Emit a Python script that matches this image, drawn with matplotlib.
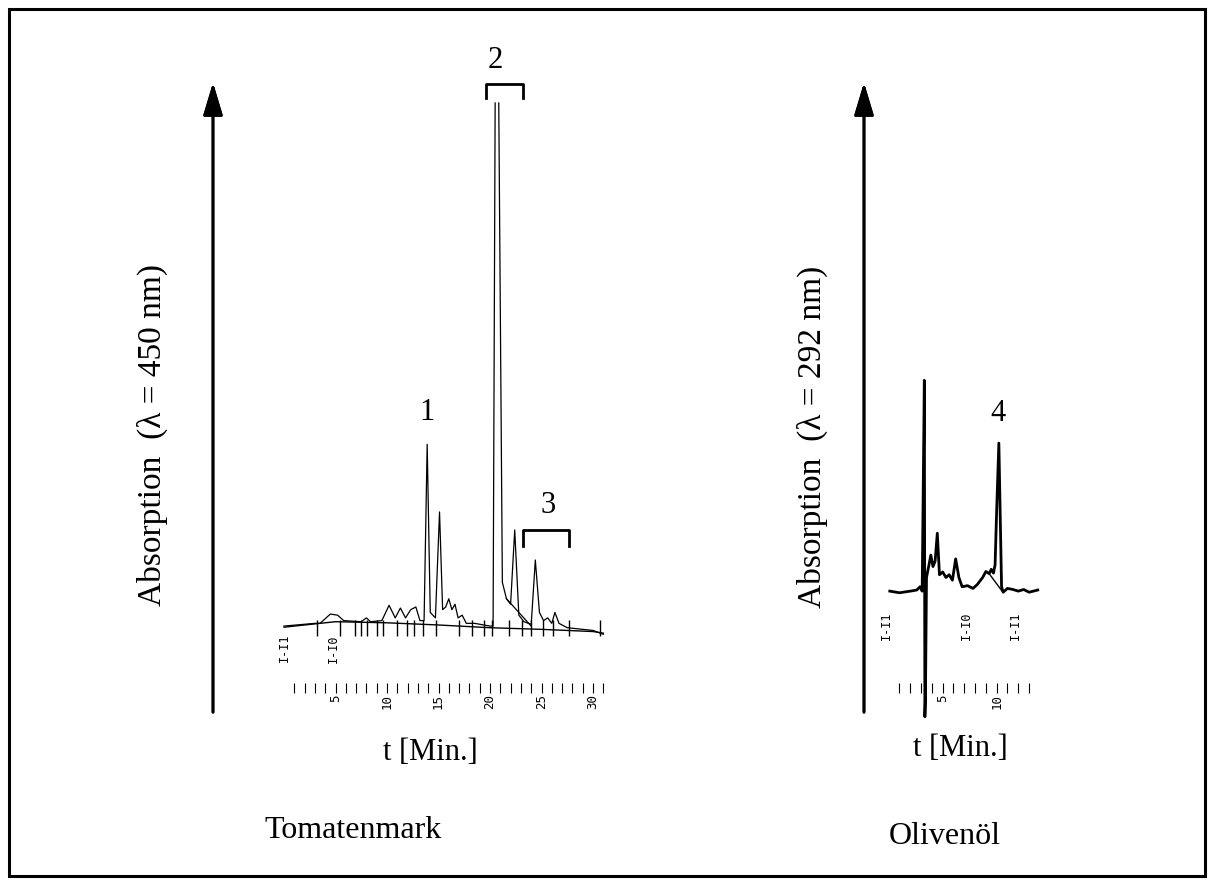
import numpy as np
import matplotlib
matplotlib.use("Agg")
import matplotlib.pyplot as plt
from matplotlib.patches import Rectangle

plt.rcParams['font.family'] = ['Liberation Serif', 'DejaVu Serif']

# Tomatenmark chromatogram (t in min, absorption in arbitrary units)
tomato_t = [0.0, 3.0, 3.5, 4.5, 5.2, 5.8, 7.5, 8.0, 8.4, 9.5, 10.2, 10.8, 11.3, 11.8,
            12.3, 12.8, 13.2, 13.6, 13.9, 14.2, 14.7, 15.1, 15.4, 15.7, 16.0, 16.3,
            16.6, 16.9, 17.3, 17.7, 18.5, 20.0, 20.3, 20.5, np.nan, 20.85, 21.2, 21.6,
            22.0, 22.4, 22.8, 23.3, 24.0, 24.4, 24.8, 25.2, 25.6, 26.0, 26.3, 26.7,
            27.5, 30.0, 31.0]
tomato_a = [0.0, 0.5, 0.5, 2.2, 2.0, 1.0, 0.8, 1.5, 0.8, 1.0, 3.8, 1.5, 3.3, 1.5,
            3.0, 3.5, 1.0, 1.0, 33.3, 2.5, 1.5, 20.9, 3.0, 3.5, 5.0, 3.0,
            4.0, 1.5, 2.0, 0.5, 0.5, 0.0, 0.0, 95.8, np.nan, 95.8, 8.0, 5.0,
            4.0, 17.6, 2.0, 0.8, 0.3, 12.1, 2.5, 1.0, 1.5, 0.5, 2.5, 0.5,
            -0.3, -0.8, -1.5]
tomato_base_t = [0, 5, 10, 15, 20, 25, 30, 31]
tomato_base_a = [-0.2, 0.8, 0.6, 0.2, -0.3, -0.6, -1.0, -1.3]
tomato_tail_t = [21.6, 24.0]
tomato_tail_a = [5.0, 0.0]
tomato_marks = [3.2, 5.4, 6.9, 7.5, 8.1, 9.0, 9.6, 11.0, 11.9, 12.6, 13.5, 14.8,
                17.0, 18.3, 19.4, 20.2, 21.8, 23.1, 24.0, 25.1, 26.1, 27.7, 30.7]
tomato_ticks = list(range(1, 32))
tomato_labels = [5, 10, 15, 20, 25, 30]

# Olivenöl chromatogram
olive_t = [0.1, 1.0, 2.0, 2.6, 2.9, 3.1, 3.3, 3.35, 3.4, 3.5, 3.7, 3.9, 4.1, 4.3,
           4.5, 4.7, 5.0, 5.3, 5.6, 5.9, 6.2, 6.5, 6.8, 7.3, 7.8, 8.2, 8.7, 9.0,
           9.3, 9.5, 9.7, 9.85, 10.0, 10.2, 10.45, 10.6, 11.0, 11.5, 12.0, 12.5,
           13.0, 13.8]
olive_a = [0.0, -0.3, 0.0, 0.2, 0.8, 0.0, 38.6, -23.0, -20.0, 2.5, 4.5, 6.6, 4.5, 5.5,
           10.6, 3.0, 3.5, 2.5, 3.0, 2.0, 5.9, 2.5, 0.8, 1.0, 0.5, 1.2, 2.5, 3.6,
           3.2, 4.0, 3.3, 4.8, 15.0, 27.1, 0.8, -0.2, 0.5, 0.3, 0.0, 0.3,
           -0.2, 0.2]
olive_tail_t = [9.3, 10.5]
olive_tail_a = [3.2, 0.0]
olive_ticks = list(range(1, 14))
olive_labels = [5, 10]

W, H = 1216, 886
fig = plt.figure(figsize=(W / 100, H / 100), dpi=100)


def fx(px):
    return px / W


def fy(py):
    return 1 - py / H


def make_axes(left_px, right_px, ylim, scale_y, ticks, labels):
    ax = fig.add_axes([fx(left_px), fy(720), fx(right_px - left_px), 640 / H])
    ax.set_ylim(*ylim)
    for s in ['top', 'left', 'right']:
        ax.spines[s].set_visible(False)
    ax.spines['bottom'].set_position(('data', scale_y))
    ax.spines['bottom'].set_visible(False)
    ax.set_yticks([])
    ax.set_xticks(labels)
    ax.set_xticks([t for t in ticks if t not in labels], minor=True)
    ax.set_xticklabels([str(v) for v in labels], rotation=90,
                       fontfamily='DejaVu Sans Mono', fontsize=9)
    ax.tick_params(axis='x', which='both', direction='inout', length=7,
                   width=0.8, pad=1)
    ax.patch.set_alpha(0)
    return ax


# left panel
ax1 = make_axes(273.7, 613.6, (-17.2, 100), -11.35, tomato_ticks, tomato_labels)
ax1.set_xlim(-1, 32)
ax1.plot(tomato_t, tomato_a, color='black', lw=0.9, clip_on=False)
ax1.plot(tomato_base_t, tomato_base_a, color='black', lw=1.0)
ax1.plot(tomato_tail_t, tomato_tail_a, color='black', lw=0.9)
ax1.vlines(tomato_marks, -1.9, 1.2, color='black', lw=1.0)
ax1.plot([19.6, 19.6, 23.2, 23.2], [96.7, 99.2, 99.2, 96.7], color='black',
         lw=2, clip_on=False)
ax1.plot([23.2, 23.2, 27.7, 27.7], [14.6, 17.6, 17.6, 14.6], color='black', lw=2)
ax1.text(13.9, 39.2, '1', ha='center', va='center', fontsize=22)
ax1.text(20.5, 103.6, '2', ha='center', va='center', fontsize=22)
ax1.text(25.6, 22.0, '3', ha='center', va='center', fontsize=22)
ax1.text(0.0, -1.3, 'I-I1', rotation=90, ha='center', va='top',
         fontfamily='DejaVu Sans Mono', fontsize=8.5)
ax1.text(4.8, -1.5, 'I-I0', rotation=90, ha='center', va='top',
         fontfamily='DejaVu Sans Mono', fontsize=8.5)

# right panel
ax2 = make_axes(877.9, 1045.3, (-23.6, 93.6), -17.76, olive_ticks, olive_labels)
ax2.set_xlim(-1, 14.5)
ax2.plot(olive_t, olive_a, color='black', lw=2.0, clip_on=False)
ax2.plot(olive_tail_t, olive_tail_a, color='black', lw=1.0)
ax2.text(10.1, 32.6, '4', ha='center', va='center', fontsize=22)
ax2.text(-0.2, -3.7, 'I-I1', rotation=90, ha='center', va='top',
         fontfamily='DejaVu Sans Mono', fontsize=8.5)
ax2.text(7.2, -3.7, 'I-I0', rotation=90, ha='center', va='top',
         fontfamily='DejaVu Sans Mono', fontsize=8.5)
ax2.text(11.7, -3.7, 'I-I1', rotation=90, ha='center', va='top',
         fontfamily='DejaVu Sans Mono', fontsize=8.5)

# axis arrows and labels
for x_px in (213, 864):
    fig.add_artist(plt.annotate('', xy=(x_px, H - 80), xytext=(x_px, H - 715),
                                xycoords='figure pixels', textcoords='figure pixels',
                                arrowprops=dict(arrowstyle='-|>,head_length=1.0,head_width=0.3',
                                                mutation_scale=20, lw=2, color='black')))

fig.text(fx(152), fy(435), 'Absorption  (\u03bb = 450 nm)', rotation=90,
         ha='center', va='center', fontsize=24)
fig.text(fx(812), fy(437), 'Absorption  (\u03bb = 292 nm)', rotation=90,
         ha='center', va='center', fontsize=24)
fig.text(fx(430), fy(752), 't [Min.]', ha='center', va='center', fontsize=22)
fig.text(fx(960), fy(748), 't [Min.]', ha='center', va='center', fontsize=22)
fig.text(fx(353), fy(831), 'Tomatenmark', ha='center', va='center', fontsize=23)
fig.text(fx(945), fy(836), 'Olivenöl', ha='center', va='center', fontsize=23)

fig.add_artist(Rectangle((fx(9), fy(876)), fx(1205 - 9), (876 - 9) / H,
                         transform=fig.transFigure, fill=False, lw=2.2,
                         edgecolor='black'))

fig.savefig('out.png', dpi=100)
